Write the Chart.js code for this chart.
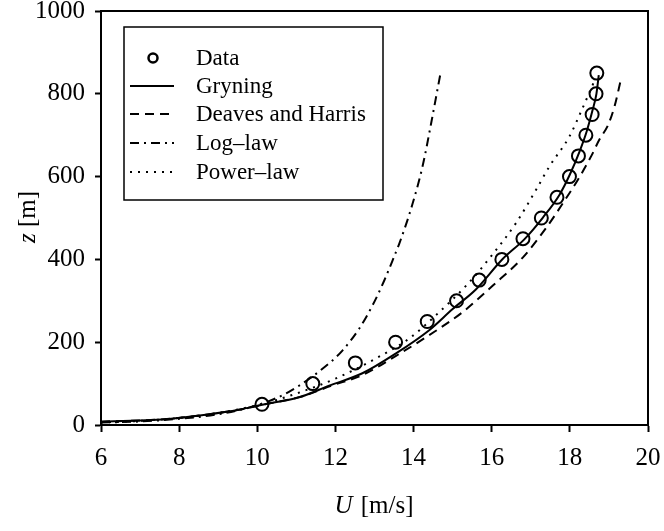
<!DOCTYPE html>
<html>
<head>
<meta charset="utf-8">
<script src="https://cdn.jsdelivr.net/npm/chart.js@4.4.1/dist/chart.umd.min.js"></script>
<style>
  html, body { margin: 0; padding: 0; background: #fff; }
  #wrap { width: 664px; height: 531px; position: relative; }
</style>
</head>
<body>
<div id="wrap"><canvas id="chart" width="664" height="531"></canvas></div>
<script>
// Measured wind profile
const dataU = [10.12, 11.42, 12.51, 13.54, 14.35, 15.10, 15.68, 16.26, 16.80, 17.27, 17.67, 17.99, 18.22, 18.41, 18.57, 18.67, 18.69];
const dataZ = [50, 100, 150, 200, 250, 300, 350, 400, 450, 500, 550, 600, 650, 700, 750, 800, 850];

// Gryning profile
const grynU = [6.0, 7.0, 7.65, 8.68, 9.53, 10.13, 11.07, 11.84, 12.69, 13.55, 14.4, 15.0, 15.6, 16.28, 16.84, 17.31, 17.74, 18.0, 18.25, 18.43, 18.58, 18.68, 18.74];
const grynZ = [8, 11, 14, 25, 37, 49, 67, 95, 125, 173, 229, 280, 328, 401, 449, 501, 557, 605, 661, 709, 760, 800, 845];

// Deaves and Harris profile
const dhU = [6.0, 7.6, 8.7, 9.6, 10.2, 11.1, 11.9, 12.7, 13.55, 14.4, 15.26, 16.03, 16.8, 17.4, 17.83, 18.21, 18.55, 18.76, 18.98, 19.15, 19.3];
const dhZ = [8, 14, 25, 38, 50, 68, 95, 121, 167, 217, 273, 337, 405, 477, 537, 593, 650, 690, 725, 772, 832];

// Log-law profile
const logU = [6.0, 7.0, 8.0, 9.0, 10.0, 10.81, 11.84, 12.19, 12.61, 12.95, 13.25, 13.52, 13.63, 13.97, 14.24, 14.45, 14.68];
const logZ = [6, 8.5, 15, 26, 48, 80, 149, 181, 233, 289, 349, 411, 437, 533, 629, 729, 845];

// Power-law profile
const powU = [6.0, 7.0, 8.0, 9.0, 10.1, 11.0, 12.0, 13.04, 13.89, 14.66, 15.38, 16.03, 16.63, 17.14, 17.48, 17.99, 18.3, 18.6];
const powZ = [6, 10, 17, 29, 50, 76, 112, 161, 209, 273, 340, 413, 489, 569, 625, 697, 760, 825];

const xTicks = [6, 8, 10, 12, 14, 16, 18, 20];
const yTicks = [0, 200, 400, 600, 800, 1000];

const toPts = (xs, ys) => xs.map((x, i) => ({ x: x, y: ys[i] }));
const SERIF = '"Liberation Serif", "DejaVu Serif", serif';

const lineSet = (label, xs, ys, dash, cap) => ({
    label: label,
    data: toPts(xs, ys),
    showLine: true,
    borderColor: '#000',
    borderWidth: 2,
    borderDash: dash,
    borderCapStyle: cap || 'butt',
    pointRadius: 0,
    cubicInterpolationMode: 'monotone',
    fill: false
});

// frame, axis titles and the boxed legend inside the plot
const extras = {
    id: 'extras',
    afterDraw(chart) {
        const c = chart.ctx;
        const a = chart.chartArea;
        c.save();
        c.strokeStyle = '#000';
        c.lineWidth = 2;
        c.strokeRect(a.left, a.top, a.right - a.left, a.bottom - a.top);

        // x title
        c.fillStyle = '#000';
        c.textBaseline = 'middle';
        c.font = 'italic 25px ' + SERIF;
        const w1 = c.measureText('U').width;
        c.font = '25px ' + SERIF;
        const rest = ' [m/s]';
        const w2 = c.measureText(rest).width;
        let x0 = 373 - (w1 + w2) / 2;
        c.textAlign = 'left';
        c.font = 'italic 25px ' + SERIF;
        c.fillText('U', x0, 506);
        c.font = '25px ' + SERIF;
        c.fillText(rest, x0 + w1 + 2, 506);

        // y title
        c.save();
        c.translate(28, 217);
        c.rotate(-Math.PI / 2);
        c.font = 'italic 25px ' + SERIF;
        const v1 = c.measureText('z').width;
        c.font = '25px ' + SERIF;
        const vr = ' [m]';
        const v2 = c.measureText(vr).width;
        const y0 = -(v1 + v2) / 2;
        c.font = 'italic 25px ' + SERIF;
        c.fillText('z', y0, 0);
        c.font = '25px ' + SERIF;
        c.fillText(vr, y0 + v1, 0);
        c.restore();

        // legend
        c.fillStyle = '#fff';
        c.fillRect(124, 27, 259, 173);
        c.lineWidth = 1.5;
        c.strokeRect(124, 27, 259, 173);
        const rows = [58, 86, 114, 143, 172];
        chart.data.datasets.forEach((ds, i) => {
            const y = rows[i];
            c.strokeStyle = '#000';
            if (ds.showLine) {
                c.lineWidth = 2;
                c.setLineDash(ds.borderDash || []);
                c.lineCap = ds.borderCapStyle || 'butt';
                c.beginPath();
                c.moveTo(130, y);
                c.lineTo(174, y);
                c.stroke();
                c.setLineDash([]);
            } else {
                c.lineWidth = 2.5;
                c.beginPath();
                c.arc(153, y, 4.5, 0, Math.PI * 2);
                c.stroke();
            }
            c.fillStyle = '#000';
            c.font = '23px ' + SERIF;
            c.textAlign = 'left';
            c.textBaseline = 'middle';
            c.fillText(ds.label, 196, y + 1);
        });
        c.restore();
    }
};

const ctx = document.getElementById('chart').getContext('2d');
new Chart(ctx, {
    type: 'scatter',
    data: {
        datasets: [
            {
                label: 'Data',
                data: toPts(dataU, dataZ),
                showLine: false,
                pointStyle: 'circle',
                pointRadius: 6.5,
                borderColor: '#000',
                borderWidth: 2,
                backgroundColor: 'rgba(0,0,0,0)'
            },
            lineSet('Gryning', grynU, grynZ, []),
            lineSet('Deaves and Harris', dhU, dhZ, [9, 6]),
            lineSet('Log\u2013law', logU, logZ, [9, 5, 2, 5]),
            lineSet('Power\u2013law', powU, powZ, [2, 6])
        ]
    },
    options: {
        responsive: false,
        animation: false,
        layout: { padding: { left: 0, right: 16, top: 11, bottom: 0 } },
        plugins: {
            legend: { display: false },
            tooltip: { enabled: false }
        },
        scales: {
            x: {
                type: 'linear',
                min: 6,
                max: 20,
                afterBuildTicks: (s) => { s.ticks = xTicks.map(v => ({ value: v })); },
                afterFit: (s) => { s.height = 106; s.paddingLeft = 0; s.paddingRight = 0; },
                grid: { drawOnChartArea: false, drawTicks: true, tickLength: 7, tickWidth: 2, tickColor: '#000' },
                border: { display: true, color: '#000', width: 2 },
                ticks: { color: '#000', padding: 11, callback: (v) => String(v), font: { family: SERIF, size: 25 } }
            },
            y: {
                type: 'linear',
                min: 0,
                max: 1000,
                afterBuildTicks: (s) => { s.ticks = yTicks.map(v => ({ value: v })); },
                afterFit: (s) => { s.width = 101; s.paddingTop = 0; s.paddingBottom = 0; },
                grid: { drawOnChartArea: false, drawTicks: true, tickLength: 6, tickWidth: 2, tickColor: '#000' },
                border: { display: true, color: '#000', width: 2 },
                ticks: { color: '#000', padding: 10, callback: (v) => String(v), font: { family: SERIF, size: 25 } }
            }
        }
    },
    plugins: [extras]
});
</script>
</body>
</html>
